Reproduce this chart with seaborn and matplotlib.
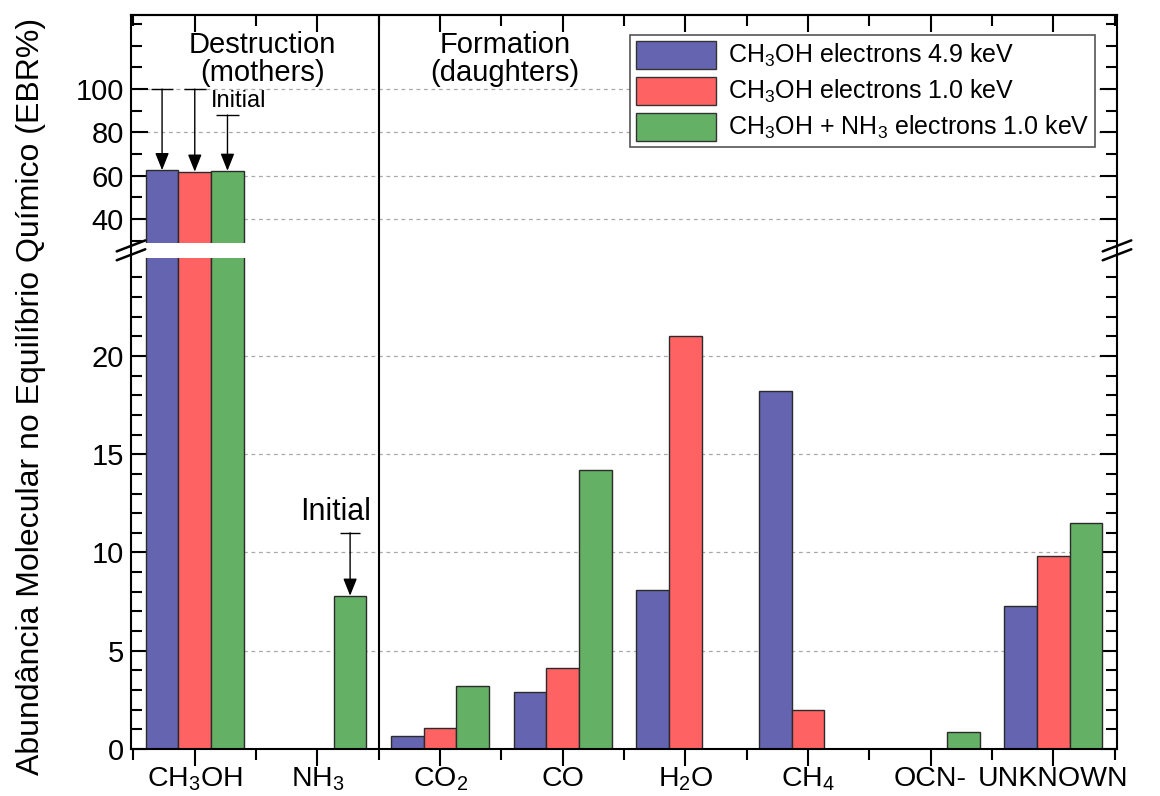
import numpy as np
import pandas as pd
import matplotlib
matplotlib.use("Agg")
import matplotlib.pyplot as plt
import seaborn as sns
from matplotlib.patches import Patch
from matplotlib.ticker import FixedLocator, FixedFormatter, NullFormatter

# ---------------- data ----------------
species = [r"CH$_3$OH", r"NH$_3$", r"CO$_2$", "CO", r"H$_2$O", r"CH$_4$", "OCN-", "UNKNOWN"]
series = [r"CH$_3$OH electrons 4.9 keV",
          r"CH$_3$OH electrons 1.0 keV",
          r"CH$_3$OH + NH$_3$ electrons 1.0 keV"]
nan = np.nan
ch3oh_4p9kev = [62.6, nan, 0.65, 2.9, 8.1, 18.2, nan, 7.3]
ch3oh_1p0kev = [61.9, nan, 1.05, 4.1, 21.0, 2.0, nan, 9.8]
mix_1p0kev = [62.3, 7.8, 3.2, 14.2, nan, nan, 0.85, 11.5]

# initial abundances of the parent molecules (arrows start here)
initial_ch3oh = [100, 100, 88]      # one per series
initial_nh3_mix = 11

colors = ["#6464b0", "#ff6262", "#64b064"]

y_major = [0, 5, 10, 15, 20, 40, 60, 80, 100]
y_minor = [v for v in range(1, 25) if v % 5] + [30, 50, 70, 90, 110, 120, 130]

# ---------------- broken y scale ----------------
# lower segment 0-25, upper segment 29-134, joined by a short gap
y_nodes = np.array([-1000.0, 0.0, 25.0, 29.0, 1000.0])
s_nodes = np.array([-19650.0, 0.0, 491.25, 506.0, 506.0 + 971 * 2.1667])


def fwd(v):
    return np.interp(v, y_nodes, s_nodes)


def inv(s):
    return np.interp(s, s_nodes, y_nodes)


YMAX = 134.2

# ---------------- style ----------------
sns.set_style("ticks")
plt.rcParams["font.family"] = ["Liberation Sans", "DejaVu Sans"]
plt.rcParams["mathtext.fontset"] = "custom"
plt.rcParams["mathtext.rm"] = "Liberation Sans"
plt.rcParams["mathtext.it"] = "Liberation Sans:italic"
plt.rcParams["mathtext.bf"] = "Liberation Sans:bold"
plt.rcParams["text.color"] = "black"
plt.rcParams["axes.labelcolor"] = "black"
plt.rcParams["axes.edgecolor"] = "black"
plt.rcParams["xtick.color"] = "black"
plt.rcParams["ytick.color"] = "black"

fig = plt.figure(figsize=(11.6, 7.96), dpi=100)
ax = fig.add_axes([131 / 1160, 47 / 796, 986 / 1160, 734 / 796])

df = pd.DataFrame({
    "species": species * 3,
    "series": np.repeat(series, len(species)),
    "value": ch3oh_4p9kev + ch3oh_1p0kev + mix_1p0kev,
}).dropna()

sns.barplot(data=df, x="species", y="value", hue="series",
            order=species, hue_order=series, palette=colors,
            saturation=1, width=0.8, edgecolor="#2b2b2b", linewidth=1.0,
            errorbar=None, legend=False, ax=ax)

ax.set_yscale("function", functions=(fwd, inv))
ax.set_ylim(0, YMAX)
ax.set_xlim(-0.52, 7.52)

# y ticks
ax.yaxis.set_major_locator(FixedLocator(y_major))
ax.yaxis.set_major_formatter(FixedFormatter([str(v) for v in y_major]))
ax.yaxis.set_minor_locator(FixedLocator(y_minor))
ax.yaxis.set_minor_formatter(NullFormatter())
ax.tick_params(axis="y", which="both", direction="in", left=True, right=True,
               width=1.5, labelsize=21, pad=5)
ax.tick_params(axis="y", which="major", length=12)
ax.tick_params(axis="y", which="minor", length=8)

# x ticks
ax.set_xticks(range(len(species)))
ax.set_xticklabels(species)
ax.xaxis.set_minor_locator(FixedLocator(np.arange(-0.5, 7.6, 1.0)))
ax.tick_params(axis="x", which="both", direction="out", bottom=True, top=False,
               width=1.5, labelsize=20.5, pad=0)
ax.tick_params(axis="x", which="major", length=12)
ax.tick_params(axis="x", which="minor", length=8)

top = ax.secondary_xaxis("top")
top.set_xticks(range(len(species)))
top.xaxis.set_minor_locator(FixedLocator(np.arange(-0.5, 7.6, 1.0)))
top.tick_params(axis="x", which="both", direction="in", labeltop=False, width=1.5)
top.tick_params(axis="x", which="major", length=12)
top.tick_params(axis="x", which="minor", length=8)
top.spines["top"].set_linewidth(1.5)

for sp in ax.spines.values():
    sp.set_visible(True)
    sp.set_linewidth(1.5)

ax.set_xlabel("")
ax.set_ylabel("Abundância Molecular no Equilíbrio Químico (EBR%)", fontsize=23)
ax.yaxis.set_label_coords(-0.086, 0.481)

# dashed grid at major y values
ax.set_axisbelow(True)
ax.yaxis.grid(True, which="major", linestyle=(0, (3, 3)), color="#a8a8a8", linewidth=0.9)
ax.xaxis.grid(False)

# white gap of the axis break
ax.axhspan(25, 29, color="white", zorder=2, linewidth=0)

# break marks on both spines
frac_lo = fwd(25) / fwd(YMAX)
frac_hi = fwd(29) / fwd(YMAX)
for xa in (0.0, 1.0):
    for yc in (frac_hi - 0.004, frac_lo + 0.004):
        ax.plot([xa - 0.0145, xa + 0.0145], [yc - 0.0075, yc + 0.0075],
                transform=ax.transAxes, color="black", lw=1.8,
                clip_on=False, zorder=5)

# divider between destruction and formation groups
ax.axvline(1.5, color="black", lw=1.5, zorder=2.6)

ax.text(0.55, 0.978, "Destruction\n(mothers)", transform=ax.get_xaxis_transform(),
        ha="center", va="top", fontsize=21, linespacing=0.98)
ax.text(2.53, 0.978, "Formation\n(daughters)", transform=ax.get_xaxis_transform(),
        ha="center", va="top", fontsize=21, linespacing=0.98)


def bar_of(hue_idx, cat_idx):
    for p in ax.containers[hue_idx]:
        cx = p.get_x() + p.get_width() / 2
        if round(cx) == cat_idx:
            return cx, p.get_height()
    return None


arrow_kw = dict(arrowstyle="-|>,head_length=0.75,head_width=0.3", color="black",
                lw=1.0, mutation_scale=14, shrinkA=0, shrinkB=0)

# CH3OH: initial -> equilibrium
for i, start in enumerate(initial_ch3oh):
    cx, h = bar_of(i, 0)
    ax.annotate("", xy=(cx, h), xytext=(cx, start), arrowprops=arrow_kw, zorder=4)
    ax.hlines(start, cx - 0.09, cx + 0.09, color="black", lw=1.0, zorder=4)
gx, _ = bar_of(2, 0)
ax.text(gx + 0.09, 94.5, "Initial", ha="center", va="center", fontsize=17)

# NH3 in the mixture
cx, h = bar_of(2, 1)
ax.annotate("", xy=(cx, h), xytext=(cx, initial_nh3_mix), arrowprops=arrow_kw, zorder=4)
ax.hlines(initial_nh3_mix, cx - 0.08, cx + 0.08, color="black", lw=1.0, zorder=4)
ax.text(cx - 0.12, initial_nh3_mix + 0.3, "Initial", ha="center", va="bottom", fontsize=22)

# legend
handles = [Patch(facecolor=c, edgecolor="#333333", linewidth=1.0) for c in colors]
leg = ax.legend(handles, series, loc="upper right", bbox_to_anchor=(0.9777, 0.9727),
                borderaxespad=0, fontsize=18, handlelength=3.2, handleheight=1.35,
                labelspacing=0.3, handletextpad=0.48, borderpad=0.22,
                fancybox=False, framealpha=1, edgecolor="#555555")
leg.get_frame().set_linewidth(1.2)
leg.set_zorder(6)

fig.savefig("out.png", dpi=100)
